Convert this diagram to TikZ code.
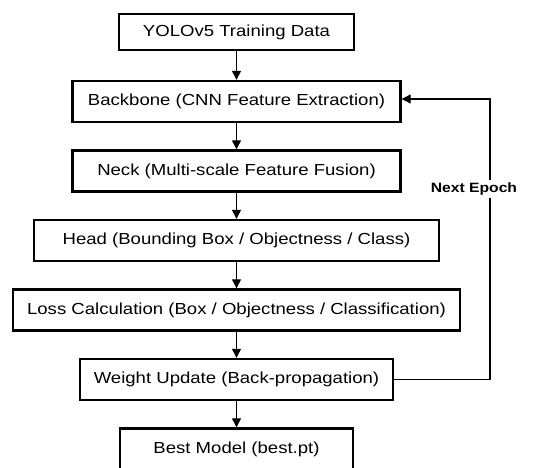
\documentclass[tikz,border=0pt]{standalone}
\usepackage{fontspec}
\setmainfont[FakeStretch=1.16]{Liberation Sans}
\usetikzlibrary{arrows.meta}

\begin{document}
\begin{tikzpicture}[x=1bp, y=-1bp, node distance=69.5bp,
        main/.style = {draw, line width=2.4bp, minimum height=41bp, inner sep=0pt,
            font=\fontsize{16bp}{19bp}\selectfont},
        arrow/.style = {line width=1.2bp, -{Triangle[length=9bp, width=9bp]}}]
                \useasboundingbox (0,0) rectangle (540,468);
                \node[main, minimum width=235bp, minimum height=36bp] (1) at (236.5,32) {YOLOv5 Training Data};
                \node[main, minimum width=328bp] (2) [below of=1] {Backbone (CNN Feature Extraction)};
                \node[main, minimum width=328bp] (3) [below of=2] {Neck (Multi-scale Feature Fusion)};
                \node[main, minimum width=405bp] (4) [below of=3] {Head (Bounding Box / Objectness / Class)};
                \node[main, minimum width=447bp] (5) [below of=4] {Loss Calculation (Box / Objectness / Classification)};
                \node[main, minimum width=313bp] (6) [below of=5] {Weight Update (Back-propagation)};
                \node[main, minimum width=233bp] (7) [below of=6] {Best Model (best.pt)};
                \coordinate (loop) at (490,99);

                \draw[arrow] (1) -- (2);
                \draw[arrow] (2) -- (3);
                \draw[arrow] (3) -- (4);
                \draw[arrow] (4) -- (5);
                \draw[arrow] (5) -- (6);
                \draw[arrow] (6) -- (7);
                \draw[arrow] (6.east) -| (loop) -- (loop -| 2.east);
                \node[fill=white, inner sep=3bp, font=\fontsize{13.5bp}{16bp}\selectfont\bfseries] (epoch) at (474,189) {Next Epoch};
            \end{tikzpicture}
\end{document}
